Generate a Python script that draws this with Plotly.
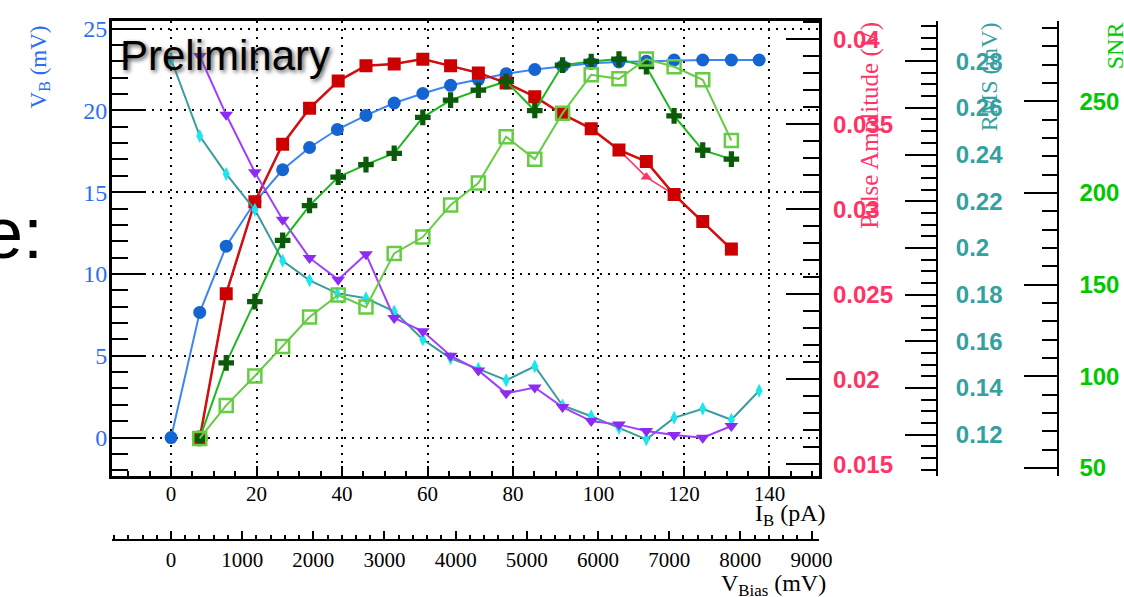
import plotly.graph_objects as go

W, H = 1124, 597

# ---------------- data ----------------
# 22-point series (V_B, RMS-teal) : bias current I_B in pA
ib_long = [0, 6.7, 12.9, 19.6, 26.1, 32.4, 38.9, 45.6, 52.2, 58.9, 65.4, 71.9,
           78.4, 85.1, 91.6, 98.3, 104.8, 111.2, 117.7, 124.4, 131.1, 137.6]
# 20-point series (pulse amplitude, SNR, RMS-purple)
ib_short = [6.7, 12.9, 19.6, 26.1, 32.4, 39.1, 45.6, 52.2, 58.9, 65.4, 71.9,
            78.4, 85.1, 91.6, 98.3, 104.8, 111.2, 117.7, 124.4, 131.1]

vb_mV = [0, 7.65, 11.7, 14.4, 16.37, 17.73, 18.83, 19.69, 20.45, 21.03, 21.53,
         21.88, 22.24, 22.5, 22.7, 22.88, 22.96, 23.0, 23.08, 23.08, 23.08, 23.08]

pulse_amp_red = [0.01652, 0.02504, 0.03045, 0.03383, 0.03595, 0.03755, 0.03845,
                 0.03855, 0.03884, 0.03845, 0.03803, 0.03744, 0.03663, 0.0356,
                 0.03475, 0.0335, 0.03281, 0.03087, 0.02929, 0.02766]
pulse_amp_pink = [0.01652, 0.02504, 0.03045, 0.03383, 0.03595, 0.03755, 0.03845,
                  0.03855, 0.03884, 0.03845, 0.03803, 0.03744, 0.03663, 0.0356,
                  0.03475, 0.0335, 0.0319, 0.03087, 0.02929, 0.02766]

rms_teal = [0.2808, 0.2479, 0.2317, 0.2163, 0.1945, 0.1861, 0.1805, 0.1784,
            0.1728, 0.1608, 0.1527, 0.1482, 0.1433, 0.1493, 0.1325, 0.1279,
            0.1229, 0.118, 0.1272, 0.1311, 0.1264, 0.1388]
rms_purple = [0.2822, 0.257, 0.2324, 0.2121, 0.1957, 0.1864, 0.1973, 0.17,
              0.1643, 0.1538, 0.1475, 0.1377, 0.1402, 0.1318, 0.1258, 0.1243,
              0.1216, 0.1199, 0.1187, 0.1237]

snr_dark = [66.2, 107.4, 140.8, 174.2, 193.2, 208.7, 215.5, 221.7, 241.3, 250.7,
            256.1, 260.9, 245.0, 269.8, 271.8, 273.1, 268.9, 242.1, 223.4, 218.5]
snr_light = [66.2, 84.2, 100.2, 116.3, 132.4, 144.4, 137.8, 167.1, 176.0, 193.5,
             205.5, 230.7, 218.5, 243.6, 264.5, 262.3, 273.1, 268.9, 261.8, 228.7]

# tick labels
ib_ticks = [0, 20, 40, 60, 80, 100, 120, 140]
vb_ticks = [0, 5, 10, 15, 20, 25]
pa_ticks = [0.015, 0.02, 0.025, 0.03, 0.035, 0.04]
pa_text = ["0.015", "0.02", "0.025", "0.03", "0.035", "0.04"]
rms_ticks = [0.12, 0.14, 0.16, 0.18, 0.2, 0.22, 0.24, 0.26, 0.28]
rms_text = ["0.12", "0.14", "0.16", "0.18", "0.2", "0.22", "0.24", "0.26", "0.28"]
snr_ticks = [50, 100, 150, 200, 250]
vbias_ticks = [0, 1000, 2000, 3000, 4000, 5000, 6000, 7000, 8000, 9000]

# ---------------- styling ----------------
SERIF = "Liberation Serif"
SANS = "Liberation Sans"
BLUE = "#2d6ef2"
PINK = "#ff3366"
TEAL = "#35a0a0"
GREEN = "#00c800"


def fx(p):
    return p / W


def fy(p):
    return 1 - p / H


fig = go.Figure()

fig.add_trace(go.Scatter(x=ib_long, y=vb_mV, xaxis="x", yaxis="y", mode="lines+markers",
                         line=dict(color="#3d85f2", width=2),
                         marker=dict(symbol="circle", size=13, color="#1464d2")))

fig.add_trace(go.Scatter(x=ib_short, y=pulse_amp_pink, xaxis="x", yaxis="y2", mode="lines+markers",
                         line=dict(color=PINK, width=1.5),
                         marker=dict(symbol="triangle-up", size=10, color=PINK)))
fig.add_trace(go.Scatter(x=ib_short, y=pulse_amp_red, xaxis="x", yaxis="y2", mode="lines+markers",
                         line=dict(color="#d01010", width=2.5),
                         marker=dict(symbol="square", size=13, color="#cc0000")))

fig.add_trace(go.Scatter(x=ib_long, y=rms_teal, xaxis="x", yaxis="y3", mode="lines+markers",
                         line=dict(color="#3a9c9c", width=2),
                         marker=dict(symbol="diamond-tall", size=10, color="#19e6f0")))
fig.add_trace(go.Scatter(x=ib_short, y=rms_purple, xaxis="x", yaxis="y3", mode="lines+markers",
                         line=dict(color="#a040ff", width=2),
                         marker=dict(symbol="triangle-down", size=12, color="#8b2cf0")))

fig.add_trace(go.Scatter(x=ib_short, y=snr_dark, xaxis="x", yaxis="y4", mode="lines+markers",
                         line=dict(color="#1db81d", width=2),
                         marker=dict(symbol="cross", size=13, color="#0a5a0a")))
fig.add_trace(go.Scatter(x=ib_short, y=snr_light, xaxis="x", yaxis="y4", mode="lines+markers",
                         line=dict(color="#66cc44", width=2),
                         marker=dict(symbol="square-open", size=13, color="#66cc44",
                                     line=dict(width=2.5, color="#66cc44"))))

# empty trace to make sure the V_Bias axis exists
fig.add_trace(go.Scatter(x=[], y=[], xaxis="x2", yaxis="y", showlegend=False, hoverinfo="skip"))

xdom = [fx(113), fx(829)]
ydom = [fy(479), fy(16)]

grid = dict(showgrid=True, gridcolor="black", griddash="2px,6px", gridwidth=2)

fig.update_layout(
    width=W, height=H, margin=dict(l=0, r=0, t=0, b=0),
    paper_bgcolor="white", plot_bgcolor="white", showlegend=False,
    xaxis=dict(domain=xdom, range=[-13.9, 151.7], anchor="y",
               tickmode="array", tickvals=ib_ticks, ticks="inside", ticklen=10, tickwidth=2,
               tickcolor="black",
               minor=dict(dtick=5, tick0=0, ticks="inside", ticklen=5, tickwidth=1.5,
                          tickcolor="black", showgrid=False),
               showline=True, linecolor="black", linewidth=2.5, mirror=True,
               zeroline=False, ticklabelstandoff=-3,
               tickfont=dict(family=SERIF, size=21, color="black"), **grid),
    xaxis2=dict(overlaying="x", anchor="free", position=fy(544), side="bottom",
                range=[-833, 9111], tickmode="array", tickvals=vbias_ticks,
                ticks="inside", ticklen=8, tickwidth=2, tickcolor="black",
                minor=dict(dtick=200, tick0=0, ticks="inside", ticklen=4, tickwidth=1.5,
                           tickcolor="black", showgrid=False),
                showline=True, linecolor="black", linewidth=2, showgrid=False, zeroline=False,
                ticklabelstandoff=1,
                tickfont=dict(family=SERIF, size=21, color="black")),
    yaxis=dict(domain=ydom, range=[-2.35, 25.48], anchor="x",
               tickmode="array", tickvals=vb_ticks, ticks="inside", ticklen=34, tickwidth=2,
               tickcolor="black",
               minor=dict(dtick=1, tick0=0, ticks="inside", ticklen=17, tickwidth=2,
                          tickcolor="black", showgrid=False),
               showline=True, linecolor="black", linewidth=2.5, mirror=True,
               zeroline=False, ticklabelstandoff=-3,
               tickfont=dict(family=SERIF, size=24, color=BLUE), **grid),
    yaxis2=dict(overlaying="y", anchor="x", side="right", range=[0.01431, 0.0411],
                tickmode="array", tickvals=pa_ticks, ticktext=pa_text,
                ticks="inside", ticklen=34, tickwidth=2, tickcolor="black",
                minor=dict(dtick=0.001, tick0=0, ticks="inside", ticklen=17, tickwidth=2,
                           tickcolor="black", showgrid=False),
                showline=True, linecolor="black", linewidth=2.5, showgrid=False, zeroline=False,
                ticklabelstandoff=6,
                tickfont=dict(family=SANS, size=24, color=PINK, weight="bold")),
    yaxis3=dict(overlaying="y", anchor="free", position=fx(948), side="right",
                range=[0.1023, 0.2973], tickmode="array", tickvals=rms_ticks, ticktext=rms_text,
                ticks="inside", ticklen=31, tickwidth=2, tickcolor="black",
                minor=dict(dtick=0.005, tick0=0, ticks="inside", ticklen=15, tickwidth=2,
                           tickcolor="black", showgrid=False),
                showline=True, linecolor="black", linewidth=2, showgrid=False, zeroline=False,
                ticklabelstandoff=13,
                tickfont=dict(family=SANS, size=24, color=TEAL, weight="bold")),
    yaxis4=dict(overlaying="y", anchor="free", position=fx(1070), side="right",
                range=[45.7, 294.0], tickmode="array", tickvals=snr_ticks,
                ticks="inside", ticklen=33, tickwidth=2, tickcolor="black",
                minor=dict(dtick=10, tick0=0, ticks="inside", ticklen=15, tickwidth=2,
                           tickcolor="black", showgrid=False),
                showline=True, linecolor="black", linewidth=2, showgrid=False, zeroline=False,
                ticklabelstandoff=16,
                tickfont=dict(family=SANS, size=24, color=GREEN, weight="bold")),
)

ann = []
ann.append(dict(text="V<sub>B</sub> (mV)", x=fx(40), y=fy(63), textangle=-90,
                font=dict(family=SERIF, size=23, color=BLUE)))
ann.append(dict(text="I<sub>B</sub> (pA)", x=fx(838), y=fy(519), xanchor="right", yanchor="middle",
                font=dict(family=SERIF, size=24, color="black")))
ann.append(dict(text="V<sub>Bias</sub> (mV)", x=fx(838), y=fy(590), xanchor="right", yanchor="middle",
                font=dict(family=SERIF, size=24, color="black")))
ann.append(dict(text="Pulse Amplitude (V)", x=fx(880), y=fy(122), textangle=-90,
                font=dict(family=SERIF, size=25, color=PINK)))
ann.append(dict(text="RMS (mV)", x=fx(1000), y=fy(73), textangle=-90,
                font=dict(family=SERIF, size=24, color=TEAL)))
ann.append(dict(text="SNR", x=fx(1128), y=fy(41), textangle=-90,
                font=dict(family=SERIF, size=24, color=GREEN)))
ann.append(dict(text="Preliminary", x=fx(119), y=fy(51), xanchor="left", yanchor="middle",
                font=dict(family=SANS, size=42, color="black", shadow="2px 2px 4px #555")))
ann.append(dict(text="e:", x=fx(46), y=fy(232), xanchor="right", yanchor="middle",
                font=dict(family=SANS, size=72, color="black")))
for a in ann:
    a.update(xref="paper", yref="paper", showarrow=False)
    a.setdefault("xanchor", "center")
    a.setdefault("yanchor", "middle")
fig.update_layout(annotations=ann)

fig.write_html("out.html")
